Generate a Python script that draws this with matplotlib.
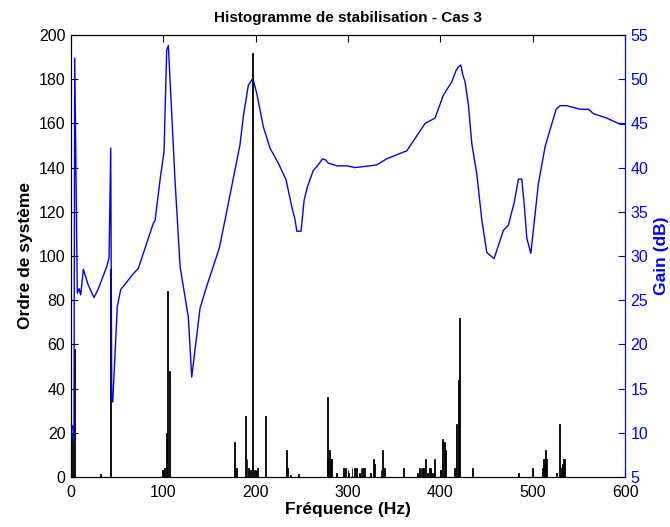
import matplotlib
matplotlib.use("Agg")
import matplotlib.pyplot as plt

plt.rcParams['font.family'] = ['Liberation Sans', 'DejaVu Sans']

# Histogram of stabilisation (system order counts)
bar_freq = [2, 4, 32, 43, 99, 101.5, 103.5, 104.3, 106.5,
            177.3, 179.4, 189.2, 190.6, 192.4, 194.6, 196.8, 198.5, 200.4, 202.2, 210.5,
            233.6, 234.7, 238, 246.6, 277.3, 278, 279.8, 280.9, 282.3, 287.7,
            295, 296.8, 300.4, 304.3, 306.5, 308.7, 312.3, 314, 315.5, 317.3, 323.8,
            327.4, 328.5, 335.7, 337.6, 339, 360, 375, 377.3, 379, 380.5, 382, 383.4,
            386.3, 388, 389.6, 391.3, 393.2, 400, 402.6, 404, 405.8, 415.5, 417, 419.5, 421,
            435, 484.5, 500, 510.1, 511.2, 512.6, 513.7, 515.1, 526, 529.3, 530.7, 531.8,
            532.9, 534.3]
bar_count = [20, 58, 1.5, 94, 3, 4, 20, 84, 48,
             16, 4, 27.7, 8, 4, 3, 192, 3, 2, 4, 27.7,
             12, 4, 1, 1.5, 8, 36, 12, 8, 8, 2,
             4, 4, 2, 4, 4, 4, 2, 4, 4, 4, 2,
             8, 6, 3, 12, 4, 4, 2, 4, 4, 4, 4, 8,
             2, 4, 4, 2, 8, 3, 17, 16, 12, 4, 24, 44, 72,
             4, 2, 4, 4, 8, 8, 12, 8, 2, 24, 4, 6,
             8, 8]

# Gain curve (dB)
gain_freq = [0, 1.8, 3.2, 4.0, 6.8, 8.7, 10.5, 13.3, 18.7, 24.9, 29.6, 38.7, 41.2, 43.0,
             44.1, 45.2, 50.1, 53.8, 67.5, 72.9, 89.1, 91.0, 96.4, 100.7, 103.6, 105.4,
             112.6, 118.1, 127.0, 130.7, 139.7, 147.0, 160.6, 166.8, 183.0, 186.6, 192.0,
             196.8, 201.1, 208.3, 215.5, 224.5, 232.9, 239.0, 242.6, 244.5, 249.1, 252.4,
             255.9, 262.4, 266.1, 270.4, 272.6, 275.1, 278.7, 287.8, 298.6, 307.6, 331.1,
             341.9, 356.3, 363.6, 383.4, 394.2, 403.2, 412.3, 417.0, 419.5, 422.1, 424.2,
             426.7, 430.3, 434.0, 439.4, 444.8, 450.2, 458.1, 468.2, 473.6, 479.8, 484.5,
             488.1, 490.6, 493.6, 497.9, 506.1, 513.4, 525.3, 529.6, 536.9, 551.3, 560.3,
             565.7, 580.2, 594.6, 600]
gain_db = [11.0, 10.7, 9.0, 52.4, 25.8, 26.3, 25.6, 28.5, 26.7, 25.3, 26.3, 28.8, 29.8, 42.2,
           13.5, 13.5, 24.3, 26.2, 28.0, 28.6, 33.7, 34.0, 38.6, 41.8, 53.3, 53.8,
           38.6, 28.8, 23.1, 16.3, 24.1, 26.6, 30.9, 34.1, 42.6, 45.8, 49.3,
           50.1, 48.4, 44.6, 42.2, 40.5, 38.6, 35.6, 34.1, 32.8, 32.8, 36.3,
           37.8, 39.7, 40.1, 40.7, 41.0, 40.9, 40.5, 40.2, 40.2, 40.0, 40.3,
           41.0, 41.6, 41.9, 45.0, 45.6, 48.2, 49.7, 51.0, 51.4, 51.6, 50.5,
           49.7, 47.1, 42.7, 39.3, 34.1, 30.4, 29.7, 32.9, 33.5, 36.0, 38.7,
           38.7, 36.0, 32.0, 30.3, 38.2, 42.4, 46.6, 47.0, 47.0, 46.6, 46.6,
           46.1, 45.6, 44.9, 44.9]

x_ticks = [0, 100, 200, 300, 400, 500, 600]
left_ticks = list(range(0, 201, 20))
right_ticks = list(range(5, 56, 5))

blue = '#0000ff'

fig = plt.figure(figsize=(6.7, 5.27), dpi=100)
ax = fig.add_axes([0.106, 0.0949, 0.827, 0.8387])
ax.bar(bar_freq, bar_count, width=1.0, color='k', edgecolor='k', linewidth=0.6)
ax.set_xlim(0, 600)
ax.set_ylim(0, 200)
ax.set_xticks(x_ticks)
ax.set_yticks(left_ticks)
ax.tick_params(direction='in', top=True, right=False, labelsize=11.5, length=5)
ax.tick_params(axis='x', pad=6)
ax.tick_params(axis='y', pad=4)
ax.set_xlabel('Fréquence (Hz)', fontsize=12.5, fontweight='bold', labelpad=1)
ax.set_ylabel('Ordre de système', fontsize=12.5, fontweight='bold', labelpad=4)
ax.set_title('Histogramme de stabilisation - Cas 3', fontsize=11, fontweight='bold', pad=9)

ax2 = ax.twinx()
ax2.plot(gain_freq, gain_db, color=blue, linewidth=1.0)
ax2.set_ylim(5, 55)
ax2.set_yticks(right_ticks)
ax2.tick_params(direction='in', colors=blue, labelsize=11.5, length=5, pad=4)
ax2.spines['right'].set_color(blue)
ax2.set_ylabel('Gain (dB)', fontsize=12.5, fontweight='bold', color=blue, labelpad=4)

fig.savefig('out.png', dpi=100)
